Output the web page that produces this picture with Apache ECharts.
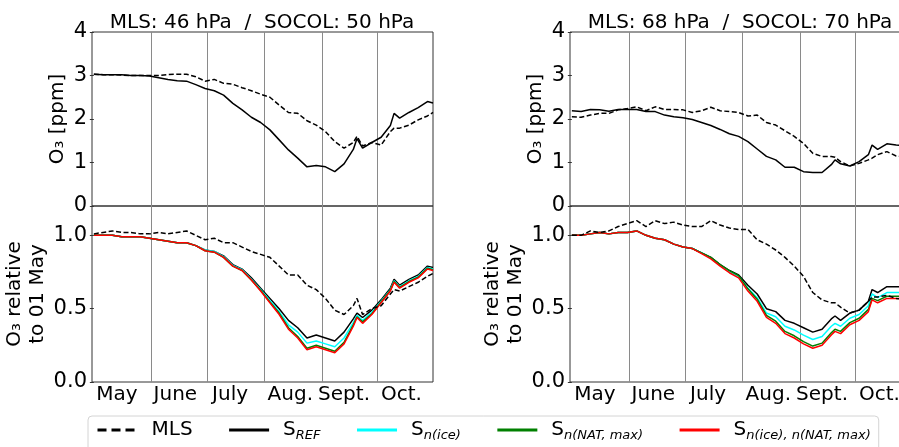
<!DOCTYPE html>
<html><head><meta charset="utf-8">
<script src="https://cdn.jsdelivr.net/npm/echarts@6/dist/echarts.min.js"></script>
<style>html,body{margin:0;padding:0;background:#fff}#c{width:899px;height:447px}</style>
</head><body><div id="c"></div>
<script>
// ---- data ----
const days = [0,5,10,15,20,25,30,35,40,45,50,55,60,65,70,75,80,85,90,95,100,105,110,115,120,125,130,135,140,142,145,150,155,160,162,165,170,175,180,183];
const monthStarts = [31,61,92,123,153];
const monthMids = [12.5,44,73.5,106,135,166];
const monthLabels = ['May','June','July','Aug.','Sept.','Oct.'];
const titleLeft = 'MLS: 46 hPa  /  SOCOL: 50 hPa';
const titleRight = 'MLS: 68 hPa  /  SOCOL: 70 hPa';
const yNameTop = 'O\u2083 [ppm]';
const yNameBottom = 'O\u2083 relative\nto 01 May';
const names = ['MLS','S_REF','S_n(ice)','S_n(NAT,max)','S_n(ice),n(NAT,max)'];

// left column (46/50 hPa)
const L_top_mls = [3.03,3.02,3.02,3.01,3.0,3.0,3.0,3.0,3.02,3.03,3.03,2.97,2.87,2.91,2.82,2.8,2.72,2.65,2.57,2.5,2.32,2.15,2.13,1.96,1.86,1.71,1.48,1.33,1.46,1.6,1.38,1.46,1.4,1.71,1.79,1.79,1.86,1.98,2.07,2.15];
const L_top_ref = [3.03,3.02,3.02,3.02,3.0,3.0,2.99,2.95,2.91,2.88,2.87,2.79,2.7,2.65,2.55,2.36,2.21,2.04,1.92,1.75,1.52,1.29,1.1,0.9,0.93,0.9,0.79,0.97,1.3,1.55,1.33,1.46,1.58,1.85,2.13,2.02,2.15,2.26,2.4,2.37];
const L_bot_mls = [1.01,1.02,1.03,1.02,1.02,1.01,1.01,1.02,1.01,1.02,1.03,1.0,0.97,0.98,0.95,0.95,0.92,0.89,0.87,0.85,0.79,0.73,0.73,0.66,0.63,0.57,0.49,0.46,0.52,0.57,0.46,0.5,0.52,0.6,0.63,0.62,0.65,0.68,0.72,0.74];
const L_bot_ref = [1.0,1.0,1.0,0.99,0.99,0.99,0.98,0.97,0.96,0.95,0.95,0.93,0.9,0.89,0.86,0.8,0.77,0.71,0.64,0.57,0.5,0.42,0.37,0.3,0.32,0.3,0.28,0.34,0.43,0.47,0.44,0.49,0.56,0.64,0.7,0.66,0.7,0.73,0.79,0.78];
const L_bot_ice = [1.0,1.0,1.0,0.99,0.99,0.99,0.98,0.97,0.96,0.95,0.95,0.93,0.9,0.89,0.855,0.795,0.765,0.7,0.63,0.555,0.48,0.39,0.34,0.265,0.28,0.26,0.24,0.3,0.405,0.455,0.42,0.475,0.55,0.63,0.69,0.65,0.69,0.72,0.78,0.77];
const L_bot_nat = [1.0,1.0,1.0,0.99,0.99,0.99,0.98,0.97,0.96,0.95,0.95,0.93,0.895,0.885,0.85,0.79,0.76,0.695,0.625,0.545,0.47,0.37,0.31,0.23,0.25,0.23,0.21,0.27,0.39,0.445,0.41,0.465,0.545,0.625,0.685,0.645,0.685,0.715,0.775,0.765];
const L_bot_both = [1.0,1.0,1.0,0.99,0.99,0.99,0.98,0.97,0.96,0.95,0.95,0.93,0.895,0.885,0.85,0.79,0.76,0.695,0.62,0.54,0.46,0.36,0.3,0.22,0.24,0.22,0.2,0.26,0.38,0.44,0.4,0.46,0.54,0.62,0.68,0.64,0.68,0.71,0.77,0.76];

// right column (68/70 hPa)
const R_top_mls = [2.05,2.04,2.09,2.13,2.13,2.21,2.24,2.28,2.19,2.28,2.22,2.22,2.21,2.15,2.19,2.27,2.19,2.17,2.15,2.07,2.09,1.92,1.86,1.73,1.6,1.44,1.21,1.14,1.14,1.12,1.02,0.92,0.98,1.06,1.1,1.18,1.25,1.15,1.13,1.12];
const R_top_ref = [2.19,2.17,2.22,2.21,2.18,2.22,2.22,2.22,2.17,2.17,2.09,2.05,2.03,1.99,1.92,1.85,1.76,1.66,1.6,1.48,1.31,1.14,1.06,0.89,0.89,0.79,0.77,0.77,0.95,1.06,0.97,0.92,1.02,1.18,1.4,1.3,1.43,1.4,1.39,1.38];
const R_bot_mls = [1.0,1.0,1.03,1.02,1.03,1.06,1.08,1.1,1.06,1.1,1.08,1.09,1.07,1.06,1.06,1.1,1.07,1.05,1.04,1.04,0.97,0.94,0.9,0.85,0.79,0.72,0.61,0.56,0.54,0.54,0.51,0.47,0.49,0.55,0.58,0.58,0.59,0.57,0.56,0.55];
const R_bot_ref = [1.0,1.0,1.01,1.02,1.01,1.02,1.02,1.03,1.0,0.98,0.97,0.94,0.92,0.91,0.88,0.85,0.8,0.76,0.73,0.66,0.6,0.5,0.48,0.42,0.4,0.37,0.34,0.36,0.43,0.45,0.42,0.47,0.49,0.55,0.63,0.61,0.65,0.65,0.65,0.64];
const R_bot_ice = [1.0,1.0,1.01,1.02,1.01,1.02,1.02,1.03,1.0,0.98,0.97,0.94,0.92,0.91,0.88,0.845,0.795,0.75,0.72,0.64,0.575,0.47,0.445,0.38,0.355,0.32,0.29,0.31,0.38,0.4,0.38,0.435,0.46,0.52,0.6,0.575,0.61,0.61,0.61,0.6];
const R_bot_nat = [1.0,1.0,1.01,1.02,1.01,1.02,1.02,1.03,1.0,0.98,0.97,0.94,0.92,0.91,0.88,0.85,0.8,0.76,0.725,0.635,0.565,0.455,0.415,0.345,0.315,0.275,0.245,0.265,0.335,0.36,0.345,0.405,0.435,0.495,0.57,0.555,0.585,0.585,0.585,0.575];
const R_bot_both = [1.0,1.0,1.01,1.02,1.01,1.02,1.02,1.03,1.0,0.98,0.97,0.94,0.92,0.91,0.875,0.84,0.79,0.745,0.71,0.62,0.55,0.44,0.4,0.33,0.3,0.26,0.23,0.25,0.32,0.345,0.33,0.39,0.42,0.48,0.56,0.54,0.57,0.57,0.57,0.56];

// ---- chart ----
const FONT = 'DejaVu Sans';
const colors = {'MLS':'#000000','S_REF':'#000000','S_n(ice)':'#00ffff','S_n(NAT,max)':'#008000','S_n(ice),n(NAT,max)':'#ff0000'};
const pair = arr => days.map((d,i)=>[d, arr[i]]);

// right column is wider than the picture: it is cut at the right edge
const grids = [
  {left:92, top:32, width:341, height:174},
  {left:92, top:206, width:341, height:176},
  {left:570, top:32, width:341, height:174},
  {left:570, top:206, width:341, height:176}
].map(g => Object.assign(g, {show:true, borderColor:'#333', borderWidth:1, backgroundColor:'transparent', containLabel:false, outerBoundsMode:'none'}));

const xAxes = [0,1,2,3].map(i => ({
  type:'value', gridIndex:i, min:-1, max:183,
  axisLine:{show:false},
  axisTick:{show:false, customValues: monthStarts},
  splitLine:{show:true, lineStyle:{color:'#8a8a8a', width:1}},
  axisLabel:{show: i%2===1, customValues: monthMids, margin:3,
    formatter: v => monthLabels[monthMids.indexOf(v)] || '',
    fontFamily:FONT, fontSize:20, color:'#000'}
}));

const yAxes = [0,1,2,3].map(i => {
  const top = i%2===0;
  return {
    type:'value', gridIndex:i, min:0, max: top?4:1.2, interval: top?1:0.5,
    name: top?yNameTop:yNameBottom, nameLocation:'middle', nameGap: top?11:26,
    nameTextStyle:{fontFamily:FONT, fontSize:20, color:'#000', lineHeight:23},
    axisLine:{show:false},
    axisTick:{show:true, inside:false, length:4, lineStyle:{color:'#333'}},
    splitLine:{show:false},
    axisLabel:{margin:5, fontFamily:FONT, fontSize:21, color:'#000',
      showMaxLabel: top ? true : false,
      formatter: v => top ? String(v) : v.toFixed(1)}
  };
});

function line(name, data, gi, dashed) {
  return {
    type:'line', name, xAxisIndex:gi, yAxisIndex:gi, data:pair(data),
    symbol:'none', showSymbol:false, animation:false, silent:true, clip:true,
    lineStyle:{color:colors[name], width:1.5, type: dashed?[5,2.5]:'solid'},
    itemStyle:{color:colors[name]}
  };
}

const series = [
  line('S_REF', L_top_ref, 0), line('MLS', L_top_mls, 0, true),
  line('S_REF', L_bot_ref, 1), line('S_n(ice)', L_bot_ice, 1), line('S_n(NAT,max)', L_bot_nat, 1), line('S_n(ice),n(NAT,max)', L_bot_both, 1), line('MLS', L_bot_mls, 1, true),
  line('S_REF', R_top_ref, 2), line('MLS', R_top_mls, 2, true),
  line('S_REF', R_bot_ref, 3), line('S_n(ice)', R_bot_ice, 3), line('S_n(NAT,max)', R_bot_nat, 3), line('S_n(ice),n(NAT,max)', R_bot_both, 3), line('MLS', R_bot_mls, 3, true)
];

const legendText = {
  'MLS':'{g| }{s|MLS}',
  'S_REF':'{g| }{s|S}{b|REF}',
  'S_n(ice)':'{g| }{s|S}{b|n(ice)}',
  'S_n(NAT,max)':'{g| }{s|S}{b|n(NAT, max)}',
  'S_n(ice),n(NAT,max)':'{g| }{s|S}{b|n(ice), n(NAT, max)}'
};

const chart = echarts.init(document.getElementById('c'), null, {renderer:'canvas'});
chart.setOption({
  animation:false,
  backgroundColor:'#fff',
  title:[
    {text:titleLeft, left:262, top:13, textAlign:'center', padding:0, textStyle:{fontFamily:FONT, fontSize:20, fontWeight:'normal', color:'#000'}},
    {text:titleRight, left:740, top:13, textAlign:'center', padding:0, textStyle:{fontFamily:FONT, fontSize:20, fontWeight:'normal', color:'#000'}}
  ],
  grid: grids, xAxis: xAxes, yAxis: yAxes, series,
  legend:{
    left:88, top:416, orient:'horizontal', selectedMode:false,
    padding:[4,8,14,8], itemGap:35, itemWidth:40, itemHeight:14,
    borderColor:'#d4d4d4', borderWidth:1, borderRadius:4, backgroundColor:'#fff',
    lineStyle:{width:3},
    itemStyle:{opacity:0, borderWidth:0},
    data: names.map(n => n==='MLS' ? {name:n, lineStyle:{type:[9,5], width:3}} : {name:n}),
    formatter: n => legendText[n],
    textStyle:{fontFamily:FONT, color:'#000', rich:{
      g:{width:9},
      s:{fontFamily:FONT, fontSize:20, lineHeight:24, color:'#000'},
      b:{fontFamily:FONT, fontSize:13, fontStyle:'italic', lineHeight:12, verticalAlign:'bottom', color:'#000'}
    }}
  }
});
</script></body></html>
